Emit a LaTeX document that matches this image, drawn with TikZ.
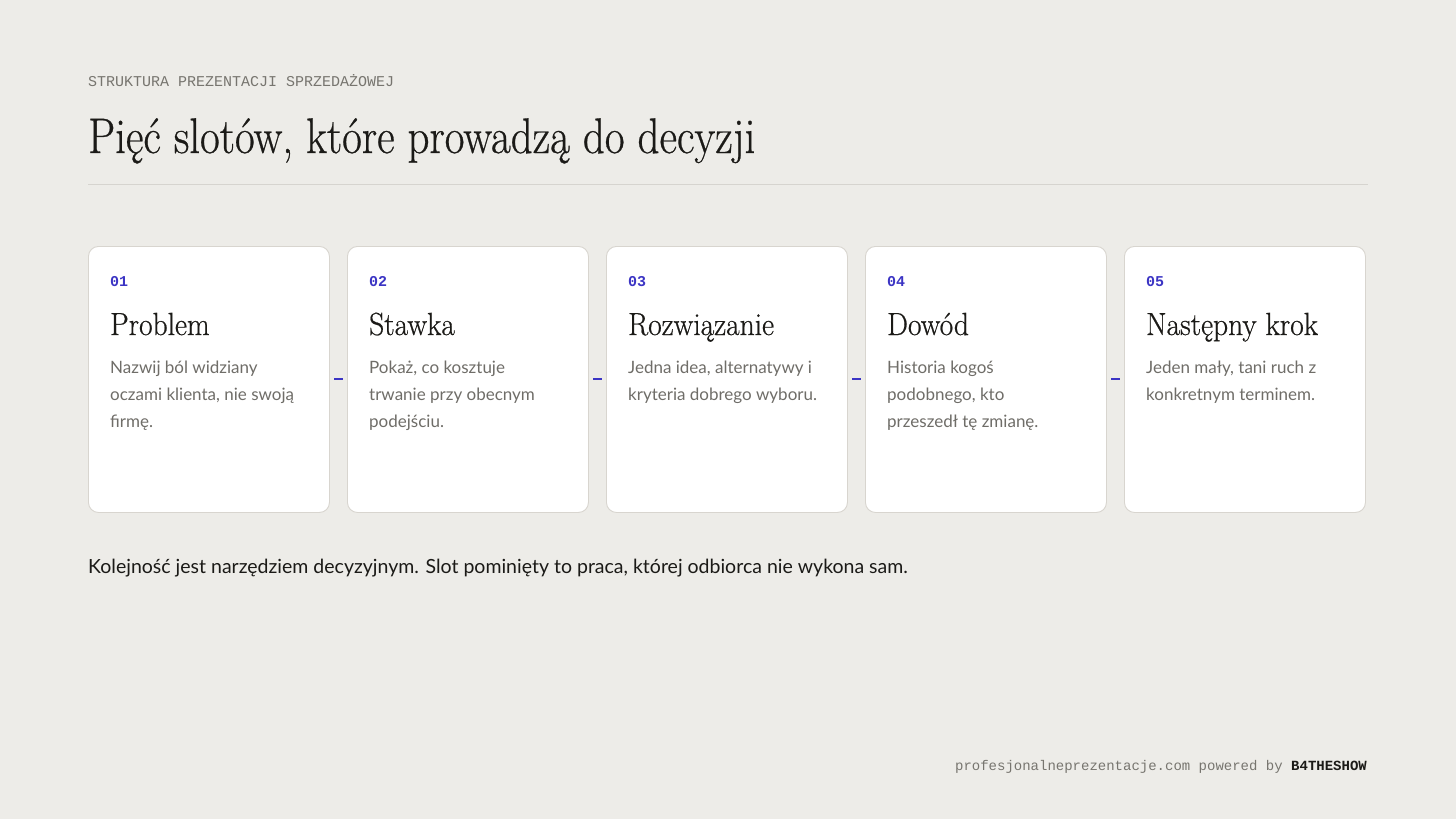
\documentclass[tikz,border=0pt]{standalone}
\usepackage{fontspec}
\setsansfont{Lato}
\setmonofont{Liberation Mono}
\newfontfamily\dispfont[FakeBold=0.6]{Latin Modern Roman}
\usepackage{xcolor}
\usepackage{tikz}
\definecolor{bg}{HTML}{EDECE8}
\definecolor{ink}{HTML}{1B1A17}
\definecolor{muted}{HTML}{77756F}
\definecolor{desc}{HTML}{6F6D68}
\definecolor{cardline}{HTML}{D8D5CF}
\definecolor{rule}{HTML}{D6D4CF}
\definecolor{accent}{HTML}{3B34C4}
\tikzset{
  card/.style={draw=cardline, fill=white, rounded corners=10pt, line width=0.9pt,
    minimum width=241pt, minimum height=266pt, anchor=north west, inner sep=0pt},
  num/.style={text=accent, font=\fontsize{15}{18}\selectfont\ttfamily\bfseries, anchor=base west, inner sep=0pt},
  ttl/.style={text=ink, font=\fontsize{32}{36}\selectfont\dispfont, anchor=base west, inner sep=0pt},
  dsc/.style={text=desc, font=\fontsize{17}{27}\selectfont\sffamily, align=left, anchor=base west, inner sep=0pt},
  link/.style={draw=accent, line width=2pt, shorten <=4.5pt, shorten >=4.5pt},
  lab/.style={anchor=base west, inner sep=0pt}
}

\begin{document}
\begin{tikzpicture}[x=1pt, y=-1pt]
  \fill[bg] (0,0) rectangle (1456,819);
  \useasboundingbox (0,0) rectangle (1456,819);
  % header
  \node[lab, text=muted, font=\fontsize{15}{18}\selectfont\ttfamily] (hdr) at (88,86) {STRUKTURA PREZENTACJI SPRZEDAŻOWEJ};
  \node[lab, text=ink, font=\fontsize{50}{56}\selectfont\dispfont] (head) at (88,153) {\scalebox{0.86}[1]{Pięć slotów, które prowadzą do decyzji}};
  \draw[rule, line width=0.9pt] (88,184) -- (1368,184);
  % cards
  \node[card] (c1) at (88,246) {};
  \node[card] (c2) at (347,246) {};
  \node[card] (c3) at (606,246) {};
  \node[card] (c4) at (865,246) {};
  \node[card] (c5) at (1124,246) {};
  \draw[link] (c1.east) -- (c2.west);
  \draw[link] (c2.east) -- (c3.west);
  \draw[link] (c3.east) -- (c4.west);
  \draw[link] (c4.east) -- (c5.west);
  \node[num] (n1) at (110,286) {01};
  \node[num] (n2) at (369,286) {02};
  \node[num] (n3) at (628,286) {03};
  \node[num] (n4) at (887,286) {04};
  \node[num] (n5) at (1146,286) {05};
  \node[ttl] (t1) at (110,335) {\scalebox{0.92}[1]{Problem}};
  \node[ttl] (t2) at (369,335) {\scalebox{0.92}[1]{Stawka}};
  \node[ttl] (t3) at (628,335) {\scalebox{0.92}[1]{Rozwiązanie}};
  \node[ttl] (t4) at (887,335) {\scalebox{0.92}[1]{Dowód}};
  \node[ttl] (t5) at (1146,335) {\scalebox{0.92}[1]{Następny krok}};
  % base = last line
  \node[dsc] (d1) at (110,427) {Nazwij ból widziany\\oczami klienta, nie swoją\\firmę.};
  \node[dsc] (d2) at (369,427) {Pokaż, co kosztuje\\trwanie przy obecnym\\podejściu.};
  \node[dsc] (d3) at (628,400) {Jedna idea, alternatywy i\\kryteria dobrego wyboru.};
  \node[dsc] (d4) at (887,427) {Historia kogoś\\podobnego, kto\\przeszedł tę zmianę.};
  \node[dsc] (d5) at (1146,400) {Jeden mały, tani ruch z\\konkretnym terminem.};
  % footer
  \node[lab, text=ink, font=\fontsize{19.5}{24}\selectfont\sffamily] (note) at (88,573) {Kolejność jest narzędziem decyzyjnym. Slot pominięty to praca, której odbiorca nie wykona sam.};
  \node[anchor=base east, inner sep=0pt, font=\fontsize{14}{18}\selectfont\ttfamily] (foot) at (1367,770) {\textcolor{muted}{profesjonalneprezentacje.com powered by }\textcolor{ink}{\bfseries B4THESHOW}};
\end{tikzpicture}
\end{document}
